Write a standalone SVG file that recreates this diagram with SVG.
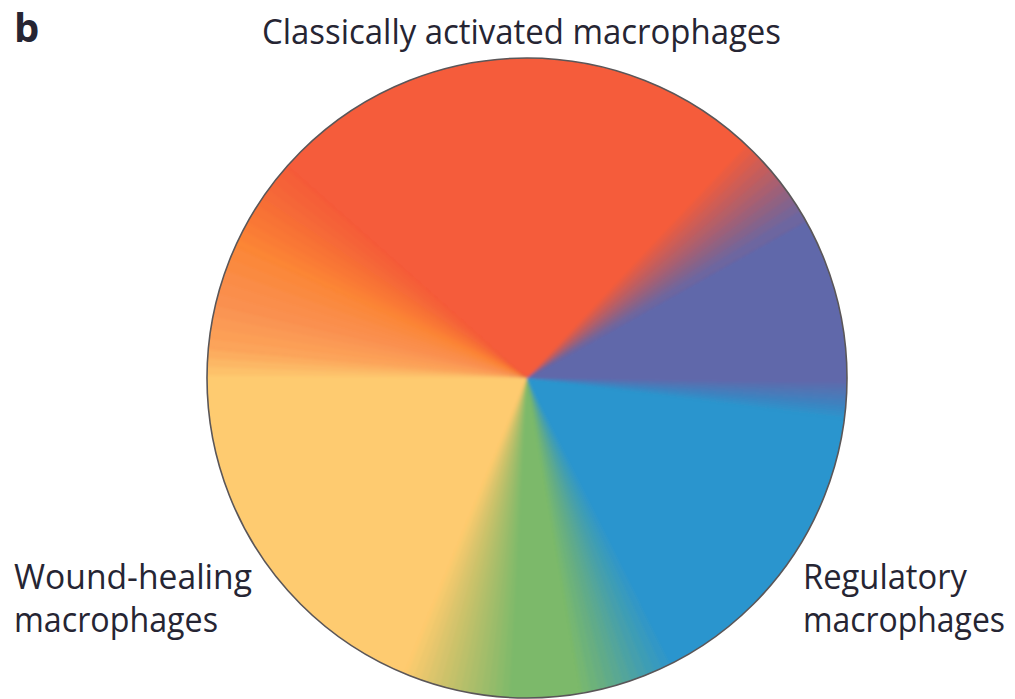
<svg xmlns="http://www.w3.org/2000/svg" xmlns:xlink="http://www.w3.org/1999/xlink" width="1015" height="699" viewBox="0 0 1015 699">
  <style>
    .lbl { font-family: "Open Sans", "Liberation Sans", sans-serif; font-size: 34px; fill: #262533; }
    .panel { font-family: "Open Sans", "Liberation Sans", sans-serif; font-size: 40px; font-weight: 700; fill: #262533; }
    .w use { fill: none; stroke-width: 340; }
  </style>
  <defs>
    <!-- one wedge ring: dash length = wedge angle in degrees, offset = start angle (clockwise from 3 o'clock) -->
    <circle id="c" cx="527" cy="378" r="170" pathLength="360"/>
    <clipPath id="disc"><circle cx="527" cy="378" r="320"/></clipPath>
    <filter id="soft" x="-10%" y="-10%" width="120%" height="120%">
      <feGaussianBlur stdDeviation="1.6"/>
    </filter>
  </defs>

  <rect width="1015" height="699" fill="#ffffff"/>

  <!-- colour wheel -->
  <g id="wheel" clip-path="url(#disc)">
    <g filter="url(#soft)">
      <circle cx="527" cy="378" r="345" fill="#6168AA"/>
      <g class="w">
        <!-- solid bases -->
        <use href="#c" style="stroke:#2B95CE;stroke-dasharray:73.5 400;stroke-dashoffset:-7"/>
        <use href="#c" style="stroke:#7CB96B;stroke-dasharray:32.5 400;stroke-dashoffset:-80"/>
        <use href="#c" style="stroke:#FECB70;stroke-dasharray:73.5 400;stroke-dashoffset:-112"/>
        <use href="#c" style="stroke:#FCA45A;stroke-dasharray:8.5 400;stroke-dashoffset:-185"/>
        <use href="#c" style="stroke:#FA9050;stroke-dasharray:11.5 400;stroke-dashoffset:-193"/>
        <use href="#c" style="stroke:#FC8636;stroke-dasharray:17.5 400;stroke-dashoffset:-204"/>
        <use href="#c" style="stroke:#F55B3A;stroke-dasharray:109.5 400;stroke-dashoffset:-221"/>
      </g>
      <!-- purple to blue -->
      <g class="w" stroke="#2B95CE">
        <use href="#c" style="stroke-dasharray:6.5 400;stroke-dashoffset:-1;stroke-opacity:.1429"/>
        <use href="#c" style="stroke-dasharray:5.5 400;stroke-dashoffset:-2;stroke-opacity:.1667"/>
        <use href="#c" style="stroke-dasharray:4.5 400;stroke-dashoffset:-3;stroke-opacity:.2"/>
        <use href="#c" style="stroke-dasharray:3.5 400;stroke-dashoffset:-4;stroke-opacity:.25"/>
        <use href="#c" style="stroke-dasharray:2.5 400;stroke-dashoffset:-5;stroke-opacity:.3333"/>
        <use href="#c" style="stroke-dasharray:1.5 400;stroke-dashoffset:-6;stroke-opacity:.5"/>
      </g>
      <!-- blue to green -->
      <g class="w" stroke="#7CB96B">
        <use href="#c" style="stroke-dasharray:17 400;stroke-dashoffset:-63.5;stroke-opacity:.0833"/>
        <use href="#c" style="stroke-dasharray:15.5 400;stroke-dashoffset:-65;stroke-opacity:.0909"/>
        <use href="#c" style="stroke-dasharray:14 400;stroke-dashoffset:-66.5;stroke-opacity:.1"/>
        <use href="#c" style="stroke-dasharray:12.5 400;stroke-dashoffset:-68;stroke-opacity:.1111"/>
        <use href="#c" style="stroke-dasharray:11 400;stroke-dashoffset:-69.5;stroke-opacity:.125"/>
        <use href="#c" style="stroke-dasharray:9.5 400;stroke-dashoffset:-71;stroke-opacity:.1429"/>
        <use href="#c" style="stroke-dasharray:8 400;stroke-dashoffset:-72.5;stroke-opacity:.1667"/>
        <use href="#c" style="stroke-dasharray:6.5 400;stroke-dashoffset:-74;stroke-opacity:.2"/>
        <use href="#c" style="stroke-dasharray:5 400;stroke-dashoffset:-75.5;stroke-opacity:.25"/>
        <use href="#c" style="stroke-dasharray:3.5 400;stroke-dashoffset:-77;stroke-opacity:.3333"/>
        <use href="#c" style="stroke-dasharray:2 400;stroke-dashoffset:-78.5;stroke-opacity:.5"/>
      </g>
      <!-- green to yellow -->
      <g class="w" stroke="#FECB70">
        <use href="#c" style="stroke-dasharray:19.25 400;stroke-dashoffset:-93.25;stroke-opacity:.0625"/>
        <use href="#c" style="stroke-dasharray:18 400;stroke-dashoffset:-94.5;stroke-opacity:.0667"/>
        <use href="#c" style="stroke-dasharray:16.75 400;stroke-dashoffset:-95.75;stroke-opacity:.0714"/>
        <use href="#c" style="stroke-dasharray:15.5 400;stroke-dashoffset:-97;stroke-opacity:.0769"/>
        <use href="#c" style="stroke-dasharray:14.25 400;stroke-dashoffset:-98.25;stroke-opacity:.0833"/>
        <use href="#c" style="stroke-dasharray:13 400;stroke-dashoffset:-99.5;stroke-opacity:.0909"/>
        <use href="#c" style="stroke-dasharray:11.75 400;stroke-dashoffset:-100.75;stroke-opacity:.1"/>
        <use href="#c" style="stroke-dasharray:10.5 400;stroke-dashoffset:-102;stroke-opacity:.1111"/>
        <use href="#c" style="stroke-dasharray:9.25 400;stroke-dashoffset:-103.25;stroke-opacity:.125"/>
        <use href="#c" style="stroke-dasharray:8 400;stroke-dashoffset:-104.5;stroke-opacity:.1429"/>
        <use href="#c" style="stroke-dasharray:6.75 400;stroke-dashoffset:-105.75;stroke-opacity:.1667"/>
        <use href="#c" style="stroke-dasharray:5.5 400;stroke-dashoffset:-107;stroke-opacity:.2"/>
        <use href="#c" style="stroke-dasharray:4.25 400;stroke-dashoffset:-108.25;stroke-opacity:.25"/>
        <use href="#c" style="stroke-dasharray:3 400;stroke-dashoffset:-109.5;stroke-opacity:.3333"/>
        <use href="#c" style="stroke-dasharray:1.75 400;stroke-dashoffset:-110.75;stroke-opacity:.5"/>
      </g>
      <!-- yellow to pale orange -->
      <g class="w" stroke="#FCA45A">
        <use href="#c" style="stroke-dasharray:5 400;stroke-dashoffset:-180.5;stroke-opacity:.25"/>
        <use href="#c" style="stroke-dasharray:3.5 400;stroke-dashoffset:-182;stroke-opacity:.3333"/>
        <use href="#c" style="stroke-dasharray:2 400;stroke-dashoffset:-183.5;stroke-opacity:.5"/>
      </g>
      <g class="w" stroke="#FA9050">
        <use href="#c" style="stroke-dasharray:6.5 400;stroke-dashoffset:-187;stroke-opacity:.25"/>
        <use href="#c" style="stroke-dasharray:4.5 400;stroke-dashoffset:-189;stroke-opacity:.3333"/>
        <use href="#c" style="stroke-dasharray:2.5 400;stroke-dashoffset:-191;stroke-opacity:.5"/>
      </g>
      <g class="w" stroke="#FC8636">
        <use href="#c" style="stroke-dasharray:9.3 400;stroke-dashoffset:-195.2;stroke-opacity:.2"/>
        <use href="#c" style="stroke-dasharray:7.1 400;stroke-dashoffset:-197.4;stroke-opacity:.25"/>
        <use href="#c" style="stroke-dasharray:4.9 400;stroke-dashoffset:-199.6;stroke-opacity:.3333"/>
        <use href="#c" style="stroke-dasharray:2.7 400;stroke-dashoffset:-201.8;stroke-opacity:.5"/>
      </g>
      <!-- orange to red -->
      <g class="w" stroke="#F55B3A">
        <use href="#c" style="stroke-dasharray:15.8 400;stroke-dashoffset:-205.7;stroke-opacity:.1"/>
        <use href="#c" style="stroke-dasharray:14.1 400;stroke-dashoffset:-207.4;stroke-opacity:.1111"/>
        <use href="#c" style="stroke-dasharray:12.4 400;stroke-dashoffset:-209.1;stroke-opacity:.125"/>
        <use href="#c" style="stroke-dasharray:10.7 400;stroke-dashoffset:-210.8;stroke-opacity:.1429"/>
        <use href="#c" style="stroke-dasharray:9 400;stroke-dashoffset:-212.5;stroke-opacity:.1667"/>
        <use href="#c" style="stroke-dasharray:7.3 400;stroke-dashoffset:-214.2;stroke-opacity:.2"/>
        <use href="#c" style="stroke-dasharray:5.6 400;stroke-dashoffset:-215.9;stroke-opacity:.25"/>
        <use href="#c" style="stroke-dasharray:3.9 400;stroke-dashoffset:-217.6;stroke-opacity:.3333"/>
        <use href="#c" style="stroke-dasharray:2.2 400;stroke-dashoffset:-219.3;stroke-opacity:.5"/>
      </g>
      <!-- red to purple -->
      <g class="w" stroke="#6168AA">
        <use href="#c" style="stroke-dasharray:17 400;stroke-dashoffset:-313.5;stroke-opacity:.0833"/>
        <use href="#c" style="stroke-dasharray:15.5 400;stroke-dashoffset:-315;stroke-opacity:.0909"/>
        <use href="#c" style="stroke-dasharray:14 400;stroke-dashoffset:-316.5;stroke-opacity:.1"/>
        <use href="#c" style="stroke-dasharray:12.5 400;stroke-dashoffset:-318;stroke-opacity:.1111"/>
        <use href="#c" style="stroke-dasharray:11 400;stroke-dashoffset:-319.5;stroke-opacity:.125"/>
        <use href="#c" style="stroke-dasharray:9.5 400;stroke-dashoffset:-321;stroke-opacity:.1429"/>
        <use href="#c" style="stroke-dasharray:8 400;stroke-dashoffset:-322.5;stroke-opacity:.1667"/>
        <use href="#c" style="stroke-dasharray:6.5 400;stroke-dashoffset:-324;stroke-opacity:.2"/>
        <use href="#c" style="stroke-dasharray:5 400;stroke-dashoffset:-325.5;stroke-opacity:.25"/>
        <use href="#c" style="stroke-dasharray:3.5 400;stroke-dashoffset:-327;stroke-opacity:.3333"/>
        <use href="#c" style="stroke-dasharray:2 400;stroke-dashoffset:-328.5;stroke-opacity:.5"/>
      </g>
    </g>
  </g>
  <circle id="rim" cx="527" cy="378" r="320" fill="none" stroke="#5A5658" stroke-width="1.6"/>

  <!-- labels -->
  <g id="labels">
    <text class="panel" x="14" y="42">b</text>
    <text class="lbl" x="262" y="44" textLength="519" lengthAdjust="spacingAndGlyphs">Classically activated macrophages</text>
    <text class="lbl" x="14" y="589" textLength="238" lengthAdjust="spacingAndGlyphs">Wound-healing</text>
    <text class="lbl" x="14" y="632" textLength="204" lengthAdjust="spacingAndGlyphs">macrophages</text>
    <text class="lbl" x="803" y="589" textLength="164" lengthAdjust="spacingAndGlyphs">Regulatory</text>
    <text class="lbl" x="803" y="632" textLength="202" lengthAdjust="spacingAndGlyphs">macrophages</text>
  </g>
</svg>
